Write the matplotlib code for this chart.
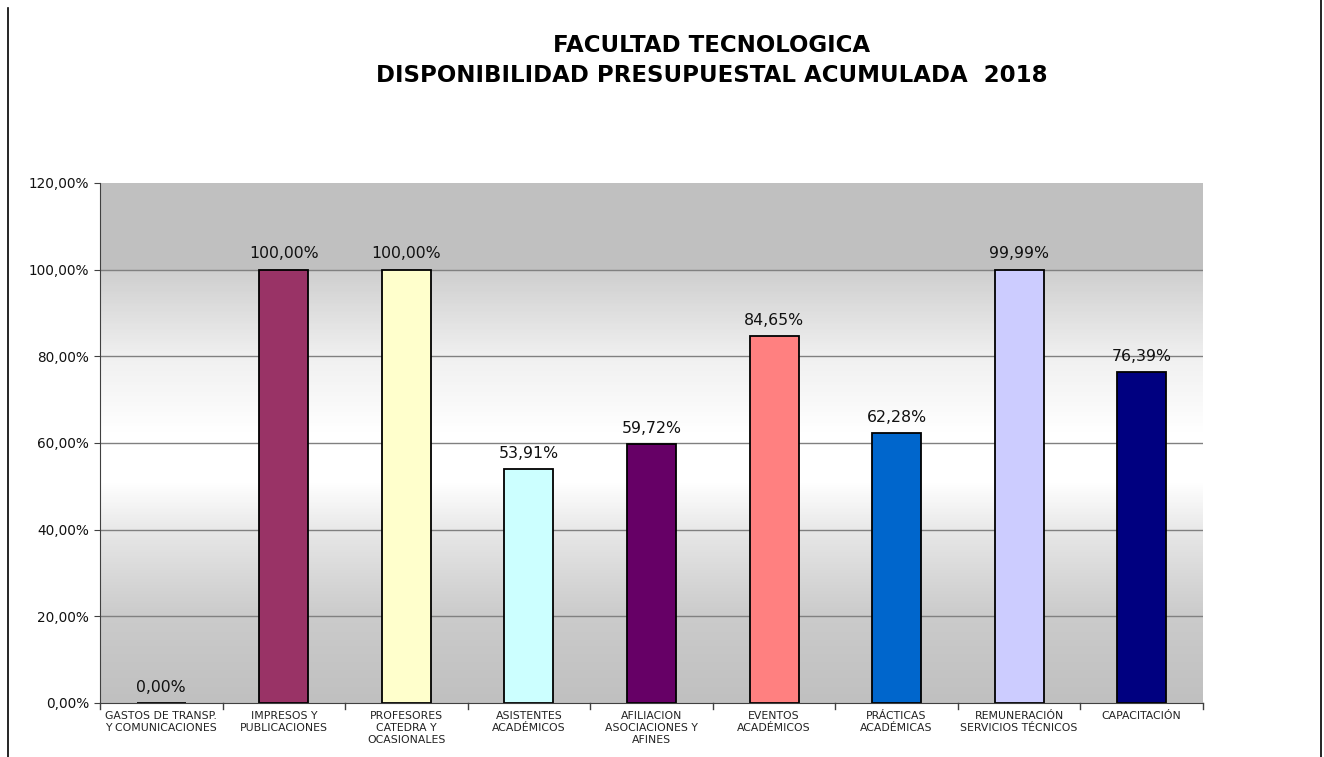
import matplotlib
matplotlib.use("Agg")
import matplotlib.pyplot as plt
import numpy as np
from matplotlib.colors import LinearSegmentedColormap
from matplotlib.lines import Line2D

categories = ["GASTOS DE TRANSP.\nY COMUNICACIONES", "IMPRESOS Y\nPUBLICACIONES",
              "PROFESORES\nCATEDRA Y\nOCASIONALES", "ASISTENTES\nACADÉMICOS",
              "AFILIACION\nASOCIACIONES Y\nAFINES", "EVENTOS\nACADÉMICOS",
              "PRÁCTICAS\nACADÉMICAS", "REMUNERACIÓN\nSERVICIOS TÉCNICOS", "CAPACITACIÓN"]
values = [0.00, 100.00, 100.00, 53.91, 59.72, 84.65, 62.28, 99.99, 76.39]
labels = ["0,00%", "100,00%", "100,00%", "53,91%", "59,72%", "84,65%", "62,28%", "99,99%", "76,39%"]
colors = ["#C0C0C0", "#993366", "#FFFFCC", "#CCFFFF", "#660066", "#FF8080", "#0066CC", "#CCCCFF", "#000080"]
yticks = [0, 20, 40, 60, 80, 100, 120]
ytick_labels = ["0,00%", "20,00%", "40,00%", "60,00%", "80,00%", "100,00%", "120,00%"]

plt.rcParams['font.family'] = ['DejaVu Sans']

W, H = 1324, 757
fig = plt.figure(figsize=(W/100, H/100), dpi=100)
ax = fig.add_axes([100/W, 1-703/H, (1203-100)/W, (703-183)/H])

n = len(categories)
x = np.arange(n)

# gradient background
stops = [(0.0, "#C0C0C0"), (0.167, "#CBCBCB"), (0.333, "#E8E8E8"), (0.42, "#FFFFFF"),
         (0.52, "#FFFFFF"), (0.667, "#F0F0F0"), (0.83, "#CFCFCF"), (0.834, "#C0C0C0"), (1.0, "#C0C0C0")]
cmap = LinearSegmentedColormap.from_list("bg", stops)
grad = np.linspace(0, 1, 600).reshape(-1, 1)
ax.imshow(grad, aspect='auto', cmap=cmap, extent=[-0.5, n-0.5, 0, 120], origin='lower',
          zorder=0, interpolation='nearest')

for yv in yticks[1:-1]:
    ax.axhline(yv, color="#808080", lw=1.0, zorder=1)

ax.bar(x, values, width=0.4, color=colors, edgecolor="black", linewidth=1.3, zorder=2)
for xi, v, lab in zip(x, values, labels):
    ax.annotate(lab, (xi, v), xytext=(0, 6), textcoords="offset points", ha="center", va="bottom",
                fontsize=11.3, color="#111111", zorder=3)

ax.set_xlim(-0.5, n-0.5)
ax.set_ylim(0, 120)
ax.set_yticks(yticks)
ax.set_yticklabels(ytick_labels, fontsize=9.8, color="#111111")
ax.set_xticks(x)
ax.set_xticklabels(categories, fontsize=7.8, linespacing=1.22, va="top", color="#222222")
ax.tick_params(axis='x', length=0, pad=6)
ax.tick_params(axis='y', length=4, color="#404040", pad=4)
# category boundary ticks
for b in np.arange(-0.5, n, 1.0):
    ax.plot([b, b], [0, -1.3], color="#404040", lw=1, clip_on=False, zorder=3)

for s in ["top", "right"]:
    ax.spines[s].set_visible(False)
ax.spines["left"].set_color("#404040")
ax.spines["bottom"].set_color("#404040")

fig.text(712/W, 1-46/H, "FACULTAD TECNOLOGICA", ha="center", va="center", fontsize=16.5, fontweight="bold")
fig.text(712/W, 1-75/H, "DISPONIBILIDAD PRESUPUESTAL ACUMULADA  2018", ha="center", va="center", fontsize=16.5, fontweight="bold")

# outer frame lines
fig.add_artist(Line2D([8/W, 8/W], [0, 1-8/H], color="black", lw=1.2, transform=fig.transFigure))
fig.add_artist(Line2D([1321/W, 1321/W], [0, 1], color="black", lw=1.2, transform=fig.transFigure))

fig.savefig("out.png", dpi=100)
